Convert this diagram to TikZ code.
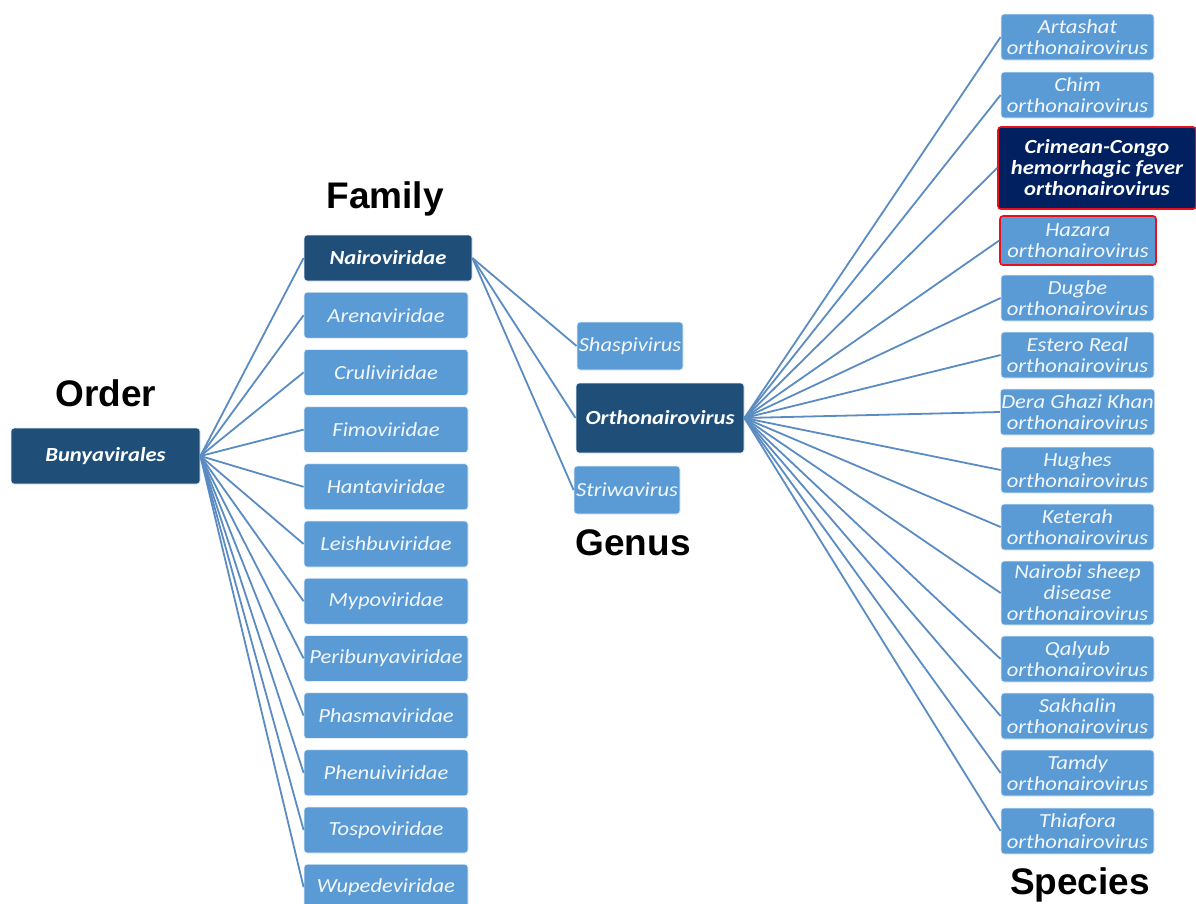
\documentclass[tikz,border=0pt]{standalone}
\usepackage{fontspec}
\setmainfont[FakeStretch=1.13]{Carlito}
\newfontfamily\headfont{Liberation Sans}
\definecolor{lightbox}{HTML}{5B9BD5}
\definecolor{darkbox}{HTML}{1F4E79}
\definecolor{navybox}{HTML}{002060}
\definecolor{linkcol}{HTML}{5A8BC2}
\definecolor{rededge}{HTML}{E8101A}
\tikzset{
  box/.style={draw=white!85!lightbox, line width=0.8pt, rounded corners=3pt, inner sep=1pt, align=center, text=white!92!lightbox, font=\fontsize{20}{21}\selectfont\itshape},
  lightb/.style={box, fill=lightbox},
  darkb/.style={box, fill=darkbox, text=white, font=\fontsize{20}{21}\selectfont\bfseries\itshape},
  fam/.style={lightb, minimum width=164pt, minimum height=46pt},
  spec/.style={lightb, minimum width=153pt, minimum height=46pt},
  head/.style={font=\headfont\fontsize{37}{40}\selectfont\bfseries, text=black},
  link/.style={draw=linkcol, line width=1.8pt},
}
\begin{document}
\begin{tikzpicture}[x=1pt,y=-1pt]
\useasboundingbox (0,0) rectangle (1196,903);
% headings
\node[head] (horder) at (106,393) {Order};
\node[head] (hfam) at (385,199) {Family};
\node[head] (hgen) at (633,543) {Genus};
\node[head] (hspec) at (1080,885) {Species};
% order
\node[darkb, minimum width=189pt, minimum height=56pt] (bunya) at (105.5,456) {Bunyavirales};
% families
\node[darkb, minimum width=168pt, minimum height=46pt] (f0) at (388,258) {Nairoviridae};
\node[fam] (f1) at (386,315.2) {Arenaviridae};
\node[fam] (f2) at (386,372.4) {Cruliviridae};
\node[fam] (f3) at (386,429.6) {Fimoviridae};
\node[fam] (f4) at (386,486.8) {Hantaviridae};
\node[fam] (f5) at (386,544) {Leishbuviridae};
\node[fam] (f6) at (386,601.2) {Mypoviridae};
\node[fam] (f7) at (386,658.4) {Peribunyaviridae};
\node[fam] (f8) at (386,715.6) {Phasmaviridae};
\node[fam] (f9) at (386,772.8) {Phenuiviridae};
\node[fam] (f10) at (386,830) {Tospoviridae};
\node[fam] (f11) at (386,887.2) {Wupedeviridae};
\foreach \i in {0,...,11} {\draw[link] (bunya.east) -- (f\i.west);}
% genera
\node[lightb, minimum width=106pt, minimum height=48pt] (g1) at (630,346) {Shaspivirus};
\node[darkb, minimum width=168pt, minimum height=70pt] (g2) at (660,418) {Orthonairovirus};
\node[lightb, minimum width=106pt, minimum height=48pt] (g3) at (627,490) {Striwavirus};
\foreach \i in {1,2,3} {\draw[link] (f0.east) -- (g\i.west);}
% species
\node[spec] (s1) at (1077.5,37) {Artashat\\orthonairovirus};
\node[spec] (s2) at (1077.5,95) {Chim\\orthonairovirus};
\node[darkb, fill=navybox, draw=rededge, line width=1.6pt, minimum width=198pt, minimum height=82pt] (s3) at (1097,168) {Crimean-Congo\\hemorrhagic fever\\orthonairovirus};
\node[spec, draw=rededge, line width=1.6pt, minimum width=156pt, minimum height=49pt] (s4) at (1078,240.5) {Hazara\\orthonairovirus};
\node[spec] (s5) at (1077.5,298) {Dugbe\\orthonairovirus};
\node[spec] (s6) at (1077.5,355) {Estero Real\\orthonairovirus};
\node[spec] (s7) at (1077.5,412) {Dera Ghazi Khan\\orthonairovirus};
\node[spec] (s8) at (1077.5,470) {Hughes\\orthonairovirus};
\node[spec] (s9) at (1077.5,527) {Keterah\\orthonairovirus};
\node[spec, minimum height=64pt] (s10) at (1077.5,593) {Nairobi sheep\\disease\\orthonairovirus};
\node[spec] (s11) at (1077.5,659) {Qalyub\\orthonairovirus};
\node[spec] (s12) at (1077.5,716) {Sakhalin\\orthonairovirus};
\node[spec] (s13) at (1077.5,773) {Tamdy\\orthonairovirus};
\node[spec] (s14) at (1077.5,831) {Thiafora\\orthonairovirus};
\foreach \i in {1,...,14} {\draw[link] (g2.east) -- (s\i.west);}
\end{tikzpicture}
\end{document}
